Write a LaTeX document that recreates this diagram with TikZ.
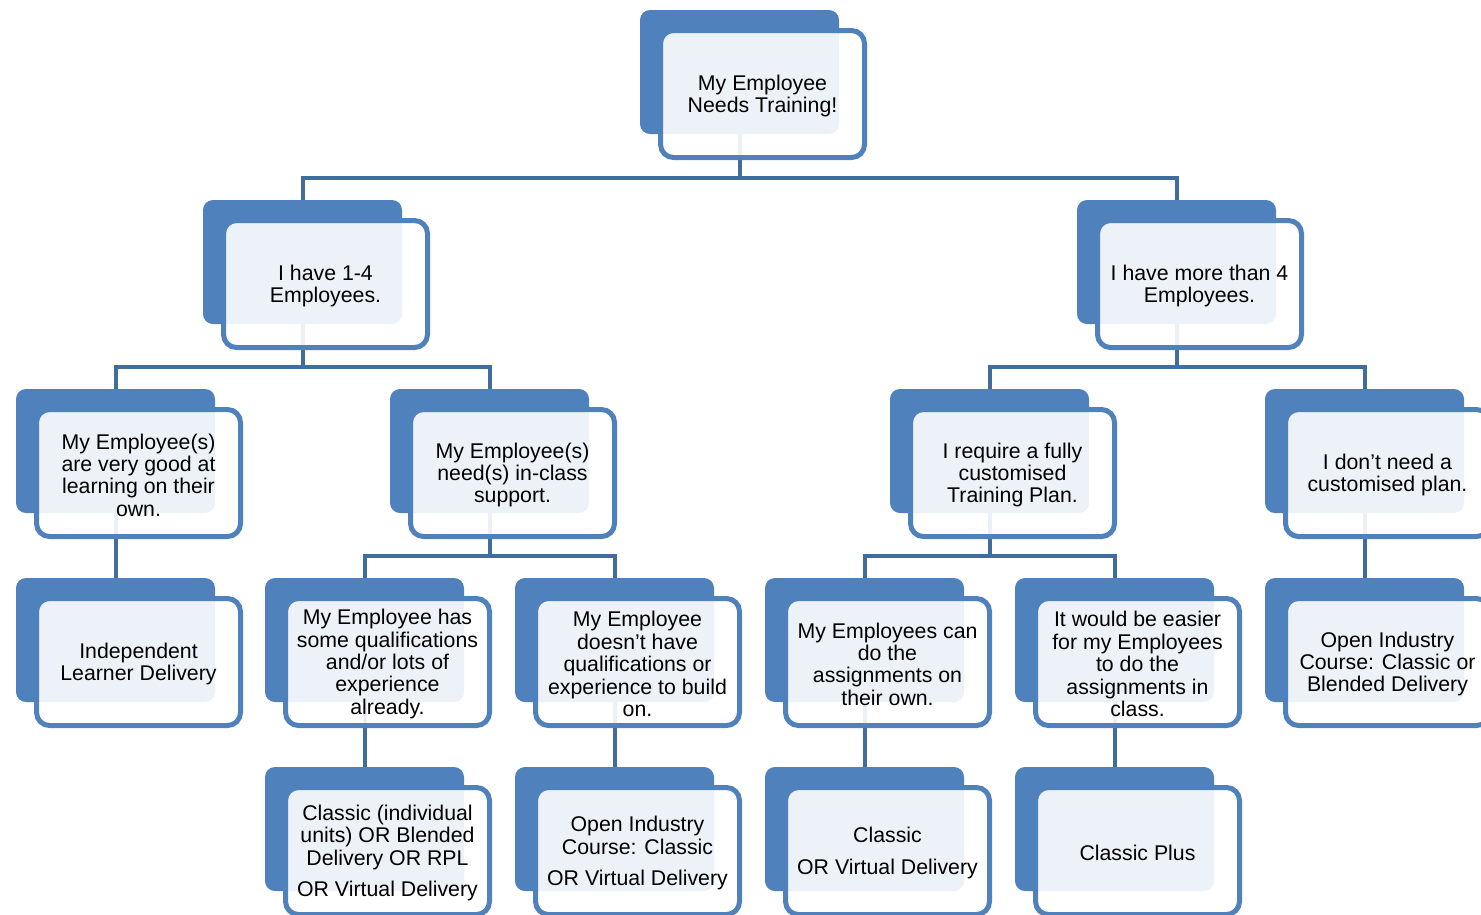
\documentclass[tikz,border=0pt]{standalone}
\usepackage{fontspec}
\setmainfont{Liberation Sans}
\usetikzlibrary{calc}
\pgfdeclarelayer{background}
\pgfsetlayers{background,main}
\definecolor{boxblue}{RGB}{79,129,189}
\definecolor{connc}{RGB}{64,108,160}
\tikzset{
  bluebox/.style={fill=boxblue, draw=none, rounded corners=10pt, minimum width=199pt, minimum height=124pt, inner sep=0pt, outer sep=0pt},
  outbox/.style={draw=boxblue, line width=5pt, fill=white, fill opacity=0.9, draw opacity=1, rounded corners=13pt, minimum width=204pt, minimum height=127pt, inner sep=0pt, outer sep=0pt},
  txt/.style={align=center, text=black, font=\fontsize{21.3}{22.4}\selectfont, inner sep=0pt, yshift=-2pt},
  conn/.style={draw=connc, line width=4pt},
}
\newcommand\treenode[4]{%
  \node[bluebox, anchor=north west] (#1) at (#2,#3) {};
  \node[outbox, anchor=north west] (#1o) at (#2+20.5,#3+20.5) {};
  \node[txt] (#1t) at (#1o.center) {#4};}
\begin{document}
\begin{tikzpicture}[x=1pt,y=-1pt]
\clip (0,0) rectangle (1481,914);
\treenode{r}{640}{10}{My Employee\\Needs Training!}
\treenode{a}{203}{200}{I have 1-4\\Employees.}
\treenode{b}{1077}{200}{I have more than 4\\Employees.}
\treenode{aa}{16}{389}{My Employee(s)\\are very good at\\learning on their\\own.}
\treenode{ab}{390}{389}{My Employee(s)\\need(s) in-class\\support.}
\treenode{ba}{890}{389}{I require a fully\\customised\\Training Plan.}
\treenode{bb}{1265}{389}{I don’t need a\\customised plan.}
\treenode{aaa}{16}{578}{Independent\\Learner Delivery}
\treenode{aba}{265}{578}{My Employee has\\some qualifications\\and/or lots of\\experience\\already.}
\treenode{abb}{515}{578}{My Employee\\doesn’t have\\qualifications or\\experience to build\\on.}
\treenode{baa}{765}{578}{My Employees can\\do the\\assignments on\\their own.}
\treenode{bab}{1015}{578}{It would be easier\\for my Employees\\to do the\\assignments in\\class.}
\treenode{bba}{1265}{578}{Open Industry\\Course: Classic or\\Blended Delivery}
\treenode{abaa}{265}{767}{Classic (individual\\units) OR Blended\\Delivery OR RPL\\[9pt]OR Virtual Delivery}
\treenode{abba}{515}{767}{Open Industry\\Course: Classic\\[9pt]OR Virtual Delivery}
\treenode{baaa}{765}{767}{Classic\\[9pt]OR Virtual Delivery}
\treenode{baba}{1015}{767}{Classic Plus}
\begin{pgfonlayer}{background}
\fill[white] (0,0) rectangle (1481,914);
\draw[conn] (r.south) |- ($(a.north)+(0,-22)$) -- (a.north);
\draw[conn] (r.south) |- ($(b.north)+(0,-22)$) -- (b.north);
\draw[conn] (a.south) |- ($(aa.north)+(0,-22)$) -- (aa.north);
\draw[conn] (a.south) |- ($(ab.north)+(0,-22)$) -- (ab.north);
\draw[conn] (b.south) |- ($(ba.north)+(0,-22)$) -- (ba.north);
\draw[conn] (b.south) |- ($(bb.north)+(0,-22)$) -- (bb.north);
\draw[conn] (aa.south) -- (aaa.north);
\draw[conn] (ab.south) |- ($(aba.north)+(0,-22)$) -- (aba.north);
\draw[conn] (ab.south) |- ($(abb.north)+(0,-22)$) -- (abb.north);
\draw[conn] (ba.south) |- ($(baa.north)+(0,-22)$) -- (baa.north);
\draw[conn] (ba.south) |- ($(bab.north)+(0,-22)$) -- (bab.north);
\draw[conn] (bb.south) -- (bba.north);
\draw[conn] (aba.south) -- (abaa.north);
\draw[conn] (abb.south) -- (abba.north);
\draw[conn] (baa.south) -- (baaa.north);
\draw[conn] (bab.south) -- (baba.north);
\end{pgfonlayer}
\end{tikzpicture}
\end{document}
